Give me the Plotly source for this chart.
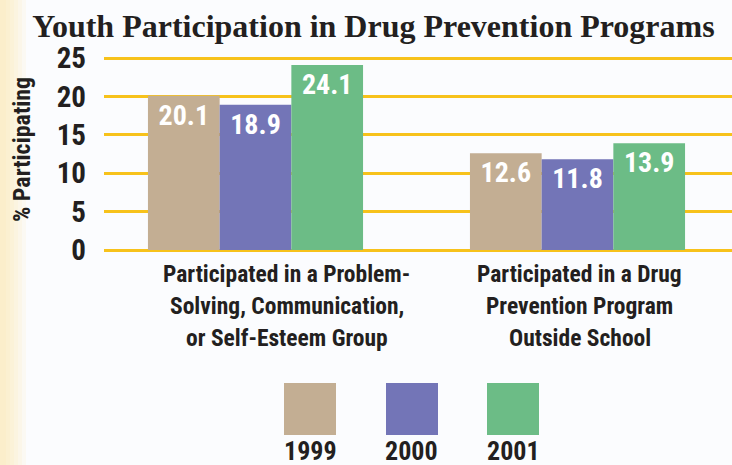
import plotly.graph_objects as go

categories = [
    "Participated in a Problem-<br>Solving, Communication,<br>or Self-Esteem Group",
    "Participated in a Drug<br>Prevention Program<br>Outside School",
]
years = ["1999", "2000", "2001"]
values_1999 = [20.1, 12.6]
values_2000 = [18.9, 11.8]
values_2001 = [24.1, 13.9]
series_values = [values_1999, values_2000, values_2001]
colors = ["#C3AE93", "#7375B7", "#6CBC86"]
y_ticks = [0, 5, 10, 15, 20, 25]

W, H = 732, 465
COND = "Roboto Condensed, Open Sans Condensed, sans-serif"
DARK = "#231F20"

fig = go.Figure()
for name, vals, col in zip(years, series_values, colors):
    fig.add_trace(go.Bar(
        x=categories, y=vals, name=name, marker=dict(color=col, line=dict(width=0)),
        text=[f"{v:.1f}" for v in vals], textposition="inside", insidetextanchor="end",
        textfont=dict(family=COND, size=28, color="white", weight="bold"),
        constraintext="none", showlegend=False, cliponaxis=False, hoverinfo="skip",
    ))

# plot area in pixel terms
pl, pr = 104, 732
y0px, ppu = 250, 7.68
ymin, ymax = -0.2, 25.2
ptop = y0px - ymax * ppu
pbot = y0px - ymin * ppu

fig.update_layout(
    width=W, height=H,
    margin=dict(l=0, r=0, t=0, b=0),
    paper_bgcolor="#FBFCFE", plot_bgcolor="#FBFCFE",
    barmode="group", bargap=0.332, bargroupgap=0,
    xaxis=dict(domain=[pl / W, pr / W], range=[-0.4705, 1.4798], showgrid=False,
               showline=False, zeroline=False, ticks="", showticklabels=False, automargin=False),
    yaxis=dict(domain=[1 - pbot / H, 1 - ptop / H], range=[ymin, ymax], tickvals=y_ticks,
               showgrid=True, gridcolor="#F7C21B", gridwidth=2.5, zeroline=False,
               showline=False, ticks="", ticklabelstandoff=17, automargin=False,
               tickfont=dict(family=COND, size=29, color=DARK, weight="bold")),
    title=dict(text="Youth Participation in Drug Prevention Programs",
               x=373.5 / W, xanchor="center", y=1 - 26 / H, yanchor="middle",
               yref="container", xref="container", automargin=False,
               font=dict(family="Liberation Serif, DejaVu Serif, serif", size=32, color=DARK, weight="bold")),
)

# category labels under each group, one annotation per line (first block sits right of its group centre)
cat_shift = [31, 2]
line_top, line_step = 258, 32
for cat, dx in zip(categories, cat_shift):
    for i, line in enumerate(cat.split("<br>")):
        fig.add_annotation(text=line, xref="x", yref="paper", x=cat, y=1 - (line_top + i * line_step) / H,
                           xanchor="center", yanchor="top", xshift=dx, showarrow=False,
                           font=dict(family=COND, size=23.5, color=DARK, weight="bold"))

# y-axis title
fig.add_annotation(text="% Participating", textangle=-90, xref="paper", yref="paper",
                   x=22 / W, y=1 - 150 / H, xanchor="center", yanchor="middle", showarrow=False,
                   font=dict(family=COND, size=24, color=DARK, weight="bold"))

# custom legend: square above label
leg_x = [310, 412, 513]
sq = 52
sq_top = 383
for name, col, cx in zip(years, colors, leg_x):
    fig.add_shape(type="rect", xref="paper", yref="paper",
                  x0=(cx - sq / 2) / W, x1=(cx + sq / 2) / W,
                  y0=1 - (sq_top + sq) / H, y1=1 - sq_top / H,
                  fillcolor=col, line=dict(width=0))
    fig.add_annotation(text=name, xref="paper", yref="paper", x=cx / W, y=1 - 451 / H,
                       xanchor="center", yanchor="middle", showarrow=False,
                       font=dict(family=COND, size=26, color=DARK, weight="bold"))

# left decorative strip (pale yellow fade)
for i in range(6):
    fig.add_shape(type="rect", xref="paper", yref="paper", x0=0, x1=(6 + i * 4) / W,
                  y0=0, y1=1, fillcolor="#FCE9A8", opacity=0.12, line=dict(width=0), layer="below")

fig.write_html("out.html", config={"displayModeBar": False},
               post_script="document.body.style.margin='0px';")
